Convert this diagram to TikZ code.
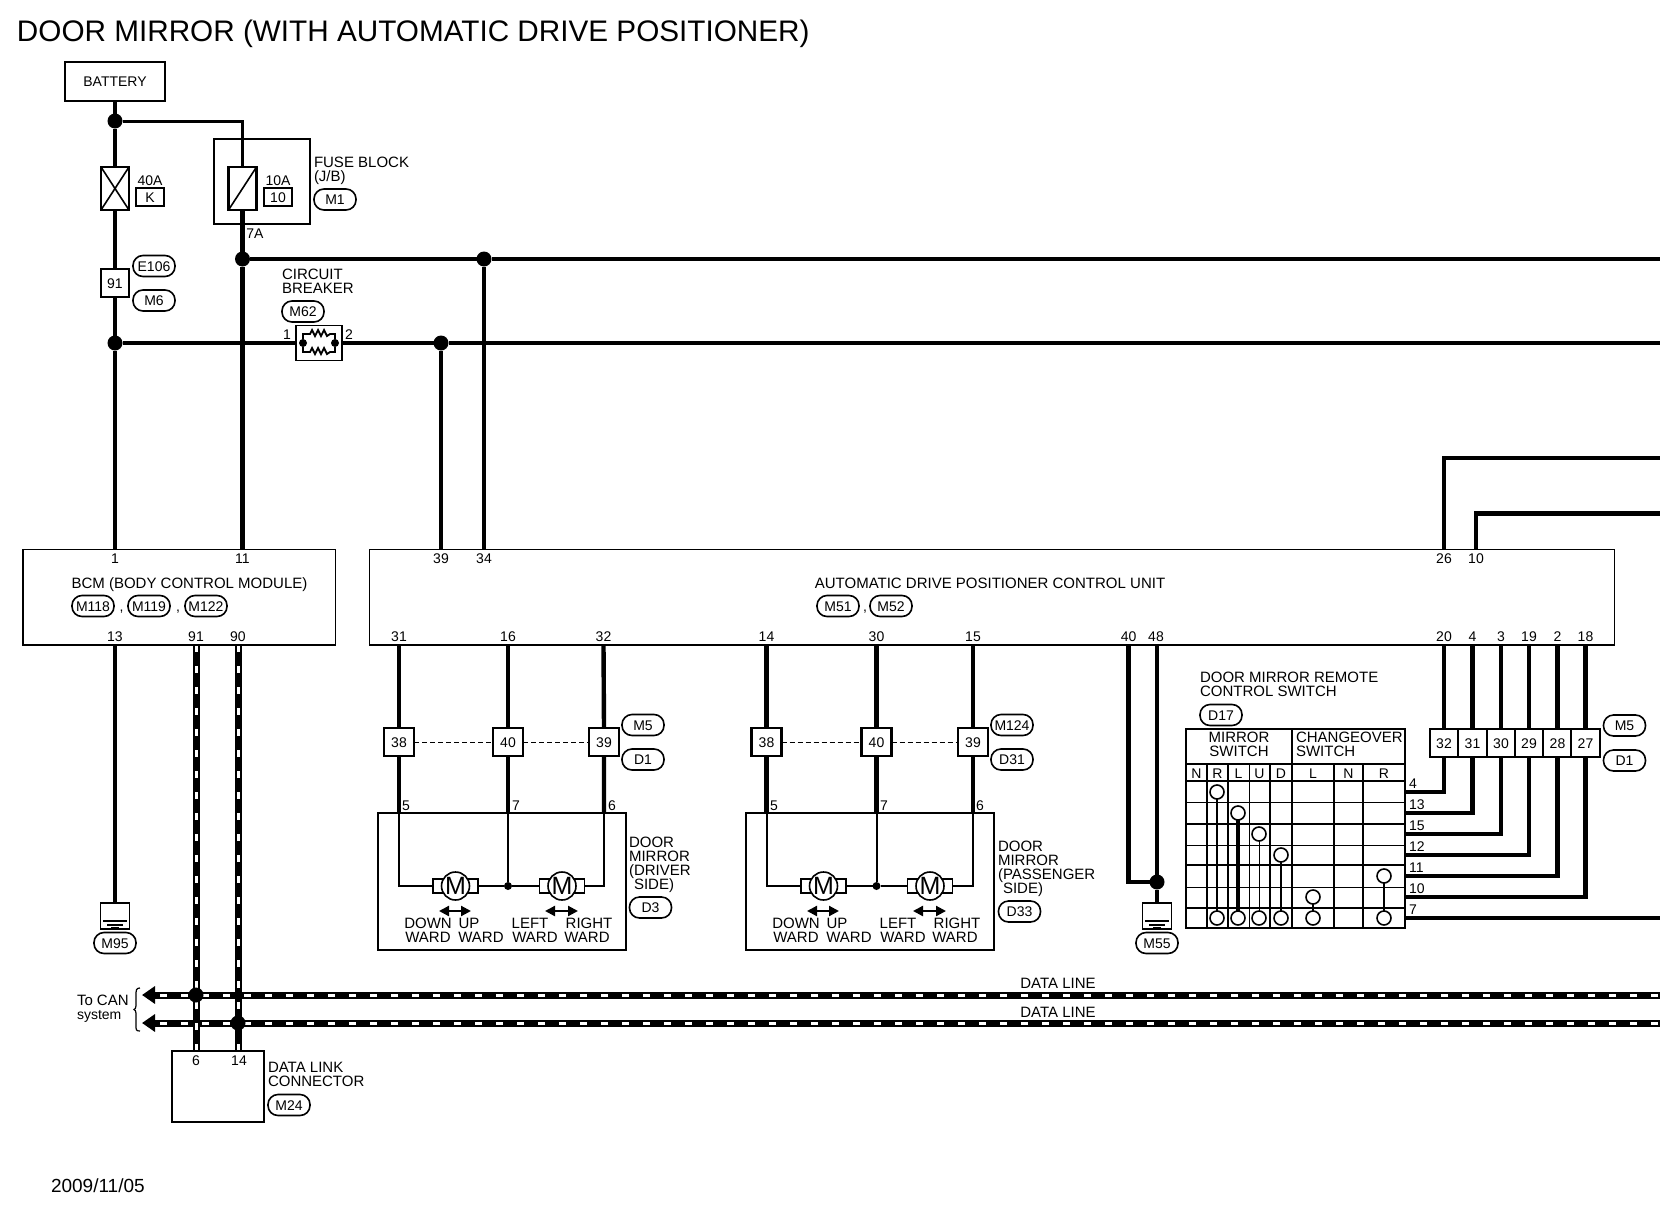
\documentclass[tikz,border=0pt]{standalone}
\usepackage{fontspec}
\setmainfont{Liberation Sans}
\usetikzlibrary{arrows.meta,backgrounds}
\tikzset{
  wh/.style 2 args={minimum width=#1*0.5pt,minimum height=#2*0.5pt},
  every node/.style={inner sep=0pt,outer sep=0pt},
  lbl/.style={font=\fontsize{7.5}{7}\selectfont,text height=5.4pt,text depth=0pt},
  num/.style={font=\fontsize{7}{7}\selectfont,text height=5pt,text depth=0pt},
  multi/.style={font=\fontsize{7.5}{7}\selectfont,align=left,anchor=north west},
  box/.style={draw,line width=0.8pt},
  cbox/.style={draw,fill=white,line width=1.1pt,num,wh={#1}{28}},
  cbox/.default=28,
  fuse/.style={draw,fill=white,line width=1.3pt,wh={28}{43}},
  tag/.style={draw,line width=0.6pt,num,wh={28}{18}},
  conn/.style={draw,line width=0.8pt,rounded corners=5pt,num,wh={42}{21},fill=white},
  jbig/.style={circle,fill=black,minimum size=7.5pt},
  jsmall/.style={circle,fill=black,minimum size=4pt},
  wire/.style={line width=2.2pt,line cap=butt},
  wirethin/.style={line width=1pt},
  dback/.style={line width=3.5pt},
  ddash/.style={line width=1.5pt,white,dash pattern=on 3.7pt off 6.8pt},
  fine/.style={line width=0.4pt,dash pattern=on 2.5pt off 1.5pt},
  motor/.style={circle,draw,fill=white,line width=0.8pt,minimum size=14pt,font=\fontsize{12.5}{12.5}\selectfont},
  brk/.style={draw,fill=white,line width=0.8pt,wh={45}{14}},
  swc/.style={circle,draw,fill=white,line width=0.8pt,minimum size=7pt},
  gnd/.style={draw,fill=white,line width=0.7pt,wh={29}{26}},
  dbl/.style={line width=1.1pt,{Triangle[length=5pt,width=5pt]}-{Triangle[length=5pt,width=5pt]}},
}
\begin{document}
\begin{tikzpicture}[x=0.5pt,y=-0.5pt]
\useasboundingbox (0,0) rectangle (1660,1216);
\node[anchor=west,font=\fontsize{14.85}{14.85}\selectfont,text height=10.6pt,text depth=0pt] (title) at (17,31) {DOOR MIRROR (WITH AUTOMATIC DRIVE POSITIONER)};
\node[box,num,wh={100}{39}] (bat) at (115,81.5) {BATTERY};
\node[jbig] (j1) at (115,121) {};
\node[box,line width=1pt,wh={96}{85}] (fb) at (262,181.5) {};
\node[fuse] (f40) at (115,188.5) {};
\node[fuse] (f10) at (242.5,188.5) {};
\draw[line width=0.8pt] (f40.north west)--(f40.south east) (f40.north east)--(f40.south west);
\draw[line width=0.8pt] (f10.north east)--(f10.south west);
\node[num] (t40) at (150,180) {40A};
\node[tag] (tk) at (150,197) {K};
\node[num] (t10) at (278,180) {10A};
\node[tag,line width=0.8pt] (t10b) at (278,197) {10};
\node[multi] (tfb) at (314,157.5) {FUSE BLOCK\\(J/B)};
\node[conn] (m1) at (335,199.5) {M1};
\node[num] (t7a) at (255,233) {7A};
\node[jbig] (j3) at (242.5,259) {};
\node[jbig] (j7) at (484,259) {};
\node[cbox] (c91) at (115,283) {91};
\node[conn] (e106) at (154,266) {E106};
\node[conn] (m6) at (154,300.5) {M6};
\node[jbig] (j5) at (115,343) {};
\node[jbig] (j6) at (441,343) {};
\node[multi] (tcb) at (282,269) {CIRCUIT\\BREAKER};
\node[conn] (m62) at (303,311.5) {M62};
\node[draw,line width=0.9pt,wh={46}{35}] (cbk) at (319,343) {};
\node[num] (cb1) at (287,334) {1};
\node[num] (cb2) at (349,334) {2};
\node[jsmall] (cbl) at (303,343) {};
\node[jsmall] (cbr) at (335,343) {};
\draw[line width=0.9pt] (cbl) -- (303,334) -- (310,334) -- (312,330) -- (315,336) -- (318,330) -- (321,336) -- (324,330) -- (327,336) -- (330,334) -- (335,334) -- (cbr);
\draw[line width=0.9pt] (cbl) -- (303,352) -- (310,352) -- (312,348) -- (315,354) -- (318,348) -- (321,354) -- (324,348) -- (327,354) -- (330,352) -- (335,352) -- (cbr);
% control units
\node[box,wh={312.5}{95.5}] (bcm) at (179.25,597.25) {};
\node[box,wh={1245}{95.5}] (adp) at (992,597.25) {};
\node[lbl] (tbcm) at (189.5,583) {BCM (BODY CONTROL MODULE)};
\node[conn] (m118) at (93,606) {M118};
\node[num] (cm1) at (121.5,606) {,};
\node[conn] (m119) at (149,606) {M119};
\node[num] (cm2) at (178,606) {,};
\node[conn] (m122) at (206,606) {M122};
\node[lbl] (tadp) at (990,583) {AUTOMATIC DRIVE POSITIONER CONTROL UNIT};
\node[conn] (m51) at (838,606) {M51};
\node[num] (cm3) at (865,606) {,};
\node[conn] (m52) at (891,606) {M52};
\foreach \n/\x/\t in {a/115/1,b/242.5/11,c/441/39,d/484/34,e/1444/26,f/1476/10}
  \node[num] (pu\n) at (\x,558) {\t};
\foreach \n/\x/\t in {a/115/13,b/196/91,c/238/90,d/399/31,e/508/16,f/603.5/32,g/766.5/14,h/876.5/30,i/973/15,j/1128.6/40,k/1156/48,l/1444/20,m/1472.5/4,n/1501/3,o/1529/19,p/1557.5/2,q/1585.5/18}
  \node[num] (pl\n) at (\x,636) {\t};
\foreach \n/\x in {a/115,b/242.5,c/441,d/484,e/1444,f/1476}
  \coordinate (tp\n) at (\x,549.5);
\foreach \n/\x in {a/115,b/196,c/238,d/399,e/508,f/603.5,g/766.5,h/876.5,i/973,j/1128.6,k/1156,l/1444,m/1472.5,n/1501,o/1529,p/1557.5,q/1585.5}
  \coordinate (bt\n) at (\x,645);
\coordinate (e1) at (1660,259);
\coordinate (e2) at (1660,343);
\coordinate (e3) at (1660,458);
\coordinate (e4) at (1660,513.5);
\coordinate (e5) at (1660,918);
% door mirror driver
\node[cbox=30] (c1a) at (399,742) {38};
\node[cbox=30] (c1b) at (508,742) {40};
\node[cbox=30] (c1c) at (604,742) {39};
\node[conn] (m5a) at (643,725) {M5};
\node[conn] (d1a) at (643,759.5) {D1};
\node[box,line width=1pt,wh={248}{137}] (dm1) at (502,881.5) {};
\node[num] (p5a) at (406,805) {5};
\node[num] (p7a) at (516,805) {7};
\node[num] (p6a) at (612,805) {6};
\node[brk] (b1) at (455.5,886) {};
\node[motor] (mo1) at (455.5,886) {M};
\node[brk] (b2) at (562,886) {};
\node[motor] (mo2) at (562,886) {M};
\node[jsmall] (jm1) at (508,886) {};
\draw[dbl] (439,911) -- (471,911);
\draw[dbl] (545,911) -- (578,911);
\foreach \n/\x/\y/\t in {a/428/923/DOWN,b/469/923/UP,c/530/923/LEFT,d/589/923/RIGHT,e/428/937/WARD,f/481/937/WARD,g/535/937/WARD,h/587/937/WARD}
  \node[lbl] (wa\n) at (\x,\y) {\t};
\node[multi] (tdm1) at (629,837.5) {DOOR\\MIRROR\\(DRIVER\\\hspace*{2.5pt}SIDE)};
\node[conn] (d3) at (650.5,907.5) {D3};
% door mirror passenger
\node[cbox=30] (c2a) at (766.5,742) {38};
\node[cbox=30] (c2b) at (876.5,742) {40};
\node[cbox=30] (c2c) at (973,742) {39};
\node[conn] (m124) at (1012,725) {M124};
\node[conn] (d31) at (1012,759.5) {D31};
\node[box,line width=1pt,wh={248}{137}] (dm2) at (870,881.5) {};
\node[num] (p5b) at (774,805) {5};
\node[num] (p7b) at (884,805) {7};
\node[num] (p6b) at (980,805) {6};
\node[brk] (b3) at (823.5,886) {};
\node[motor] (mo3) at (823.5,886) {M};
\node[brk] (b4) at (930,886) {};
\node[motor] (mo4) at (930,886) {M};
\node[jsmall] (jm2) at (876.5,886) {};
\draw[dbl] (807,911) -- (839,911);
\draw[dbl] (913,911) -- (946,911);
\foreach \n/\x/\y/\t in {a/796/923/DOWN,b/837/923/UP,c/898/923/LEFT,d/957/923/RIGHT,e/796/937/WARD,f/849/937/WARD,g/903/937/WARD,h/955/937/WARD}
  \node[lbl] (wb\n) at (\x,\y) {\t};
\node[multi] (tdm2) at (998,841.5) {DOOR\\MIRROR\\(PASSENGER\\\hspace*{2.5pt}SIDE)};
\node[conn] (d33) at (1019.5,911.5) {D33};
% grounds
\node[gnd] (g1) at (115,916) {};
\draw[line width=0.8pt] (103,921)--(127,921) (107,925)--(123,925) (111,928)--(119,928);
\node[conn] (m95) at (115,943) {M95};
\node[gnd] (g2) at (1157,916) {};
\draw[line width=0.8pt] (1145,921)--(1169,921) (1149,925)--(1165,925) (1153,928)--(1161,928);
\node[conn] (m55) at (1157,943) {M55};
\node[jbig] (j8) at (1157,882) {};
% switch
\node[multi] (tsw) at (1200,672) {DOOR MIRROR REMOTE\\CONTROL SWITCH};
\node[conn] (d17) at (1221,715) {D17};
\draw[line width=1pt] (1186,729) rectangle (1405,928);
\draw[line width=1pt] (1186,764)--(1405,764) (1186,781)--(1405,781) (1292,729)--(1292,764);
\foreach \y/\w in {802/0.5,824/1,845/0.5,865/1,887/0.5,908/1}
  \draw[line width=\w pt] (1186,\y)--(1405,\y);
\foreach \x/\w in {1207/1,1228/1,1249/0.5,1270/1.3,1292/1,1334/1,1363/1}
  \draw[line width=\w pt] (\x,764)--(\x,928);
\node[font=\fontsize{7.5}{7}\selectfont,align=center,anchor=north] (tms) at (1239,732) {MIRROR\\SWITCH};
\node[multi] (tcs) at (1296,732) {CHANGEOVER\\SWITCH};
\foreach \n/\x/\t in {a/1196.5/N,b/1217.5/R,c/1238.5/L,d/1259.5/U,e/1281/D,f/1313/L,g/1348.5/N,h/1384/R}
  \node[num] (hd\n) at (\x,773) {\t};
\foreach \n/\x/\a/\b/\w in {r/1217/792/918/1,l/1238/813/918/1.8,u/1259/834/918/0.5,d/1281/855/918/1.2,p/1313/897/918/1,q/1384/876/918/1}{
  \node[swc] (\n t) at (\x,\a) {};
  \node[swc] (\n b) at (\x,\b) {};
  \draw[line width=\w pt] (\n t)--(\n b);
}
\foreach \n/\y/\t in {a/783/4,b/804/13,c/825/15,d/846/12,e/867/11,f/888/10,g/909/7}
  \node[num,anchor=west] (wl\n) at (1409,\y) {\t};
\foreach \n/\y in {a/792,b/813,c/834,d/855,e/876,f/897,g/918}
  \coordinate (sw\n) at (1405,\y);
\foreach \n/\x/\t in {a/1444/32,b/1472.5/31,c/1501/30,d/1529/29,e/1557.5/28,f/1585.5/27}
  \node[cbox=28.5] (k\n) at (\x,743) {\t};
\node[conn] (m5b) at (1624.5,725.5) {M5};
\node[conn] (d1b) at (1624.5,760.5) {D1};
% data lines
\node[lbl] (tdl1) at (1058,983.5) {DATA LINE};
\node[lbl] (tdl2) at (1058,1012) {DATA LINE};
\node[font=\fontsize{7.5}{7}\selectfont,align=left,anchor=west] (tcan) at (77,1009) {To CAN\\\fontsize{7}{7}\selectfont system};
\draw[line width=0.6pt] (140,988) .. controls (136,988) and (136,990) .. (136,996) -- (136,1006) .. controls (136,1008) and (135,1009) .. (134,1009.5) .. controls (135,1010) and (136,1011) .. (136,1013) -- (136,1025) .. controls (136,1030) and (136,1031) .. (140,1031);
\node[box,line width=1pt,wh={92}{71}] (dlc) at (218,1086.5) {};
\node[num] (p6d) at (196,1060) {6};
\node[num] (p14d) at (239,1060) {14};
\node[multi] (tdlc) at (268,1062.5) {DATA LINK\\CONNECTOR};
\node[conn] (m24) at (289,1105) {M24};
\node[font=\fontsize{9.5}{9.5}\selectfont,text height=6.8pt,text depth=0pt,anchor=west] (tdate) at (51,1186) {2009/11/05};
\node[jbig] (j9) at (196,995) {};
\node[jbig] (j10) at (238,1023) {};
\coordinate (cana) at (142,995);
\coordinate (canb) at (142,1023);
\coordinate (cana2) at (160,995);
\coordinate (canb2) at (160,1023);
\coordinate (da) at (1660,995);
\coordinate (db) at (1660,1023);
\coordinate (dl1) at (196,1051);
\coordinate (dl2) at (238,1051);
\begin{scope}[on background layer]
\fill[white] (0,0) rectangle (1660,1216);
\draw[wire] (bat) -- (j1);
\draw[line width=1.5pt] (j1) -| (f10.north);
\draw[wire] (j1) -- (f40.north) (f40.south) -- (c91.north) (c91.south) -- (j5) (j5) -- (tpa);
\draw[wire] (f10.south) -- (j3) (j3) -- (tpb);
\draw[wire] (j3) -- (j7) (j7) -- (e1);
\draw[wire] (j7) -- (tpd);
\draw[wire] (j5) -- (cbk.west) (cbk.east) -- (j6) (j6) -- (e2);
\draw[wire] (j6) -- (tpc);
\draw[wire] (tpe) |- (e3);
\draw[wire] (tpf) |- (e4);
\draw[wire] (bta) -- (g1.north);
% mirrors
\draw[wire] (btd) -- (c1a.north) (c1a.south) -- (c1a.south |- dm1.north);
\draw[wire] (bte) -- (c1b.north) (c1b.south) -- (c1b.south |- dm1.north);
\draw[wire] (btf) -- (c1c.north) (c1c.south) -- (c1c.south |- dm1.north);
\draw[wirethin] (c1a.south |- dm1.north) |- (b1.west);
\draw[wirethin] (c1b.south |- dm1.north) -- (jm1);
\draw[wirethin] (c1c.south |- dm1.north) |- (b2.east);
\draw[wirethin] (b1.east) -- (jm1) (jm1) -- (b2.west);
\draw[fine] (c1a) -- (c1b);
\draw[fine] (c1b) -- (c1c);
\draw[wire] (btg) -- (c2a.north) (c2a.south) -- (c2a.south |- dm2.north);
\draw[wire] (bth) -- (c2b.north) (c2b.south) -- (c2b.south |- dm2.north);
\draw[wire] (bti) -- (c2c.north) (c2c.south) -- (c2c.south |- dm2.north);
\draw[wirethin] (c2a.south |- dm2.north) |- (b3.west);
\draw[wirethin] (c2b.south |- dm2.north) -- (jm2);
\draw[wirethin] (c2c.south |- dm2.north) |- (b4.east);
\draw[wirethin] (b3.east) -- (jm2) (jm2) -- (b4.west);
\draw[fine] (c2a) -- (c2b);
\draw[fine] (c2b) -- (c2c);
% ground 2
\draw[wire] (btj) |- (j8);
\draw[wire] (btk -| j8) -- (j8) (j8) -- (g2.north);
% switch wires
\foreach \n/\k/\b in {a/a/l,b/b/m,c/c/n,d/d/o,e/e/p,f/f/q}{
  \draw[wire] (bt\b) -- (k\k.north);
  \draw[wire] (sw\n) -| (k\k.south);
}
\draw[wire] (swg) -- (e5);
% data
\draw[dback,{Triangle[length=6.5pt,width=8.5pt]}-] (cana) -- (da);
\draw[dback,{Triangle[length=6.5pt,width=8.5pt]}-] (canb) -- (db);
\draw[ddash] (cana2) -- (da);
\draw[ddash] (canb2) -- (db);
\draw[dback] (btb) -- (dl1);
\draw[dback] (btc) -- (dl2);
\draw[ddash] (btb) -- (dl1);
\draw[ddash] (btc) -- (dl2);
\end{scope}
\end{tikzpicture}
\end{document}
